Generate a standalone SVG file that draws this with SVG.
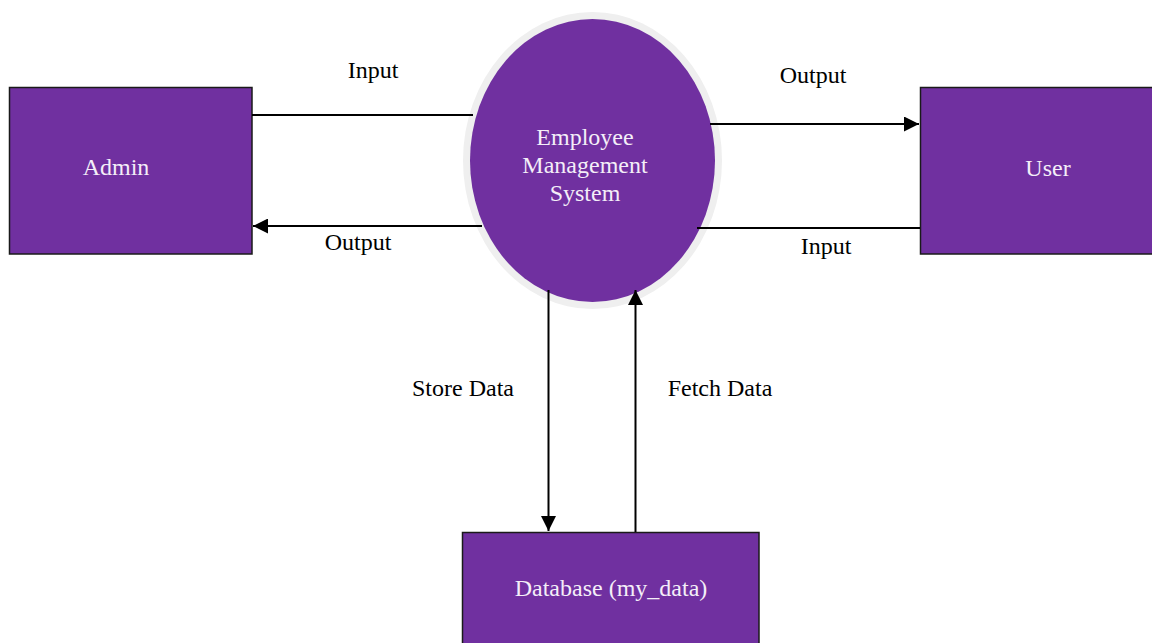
<svg xmlns="http://www.w3.org/2000/svg" width="1152" height="643" viewBox="0 0 1152 643">
<style>
.box{fill:#7030a0;stroke:#1a1a1a;stroke-width:1.5}
.nt{font-family:"Liberation Serif","Times New Roman",serif;font-size:24px;fill:#f4eef8;text-anchor:middle}
.lt{font-family:"Liberation Serif","Times New Roman",serif;font-size:24px;fill:#000;text-anchor:middle}
.ln{stroke:#000;stroke-width:2;fill:none}
</style>
<defs>
<marker id="ah" viewBox="0 0 10 10" refX="10" refY="5" markerWidth="15" markerHeight="15" markerUnits="userSpaceOnUse" orient="auto">
<path d="M0,0 L10,5 L0,10 Z" fill="#000"/>
</marker>
</defs>
<rect width="1152" height="643" fill="#fff"/>
<g id="admin">
<rect class="box" x="9.5" y="87.5" width="242.5" height="166.5"/>
<text class="nt" x="116" y="175">Admin</text>
</g>
<g id="user">
<rect class="box" x="920.5" y="87.5" width="240" height="166.5"/>
<text class="nt" x="1048" y="176">User</text>
</g>
<g id="database">
<rect class="box" x="462.5" y="532.5" width="296.5" height="120"/>
<text class="nt" x="611" y="596">Database (my_data)</text>
</g>
<g id="ems">
<ellipse cx="592.5" cy="160.5" rx="129.5" ry="148.5" fill="#efefef"/>
<ellipse cx="592.5" cy="160.5" rx="122.5" ry="141.5" fill="#7030a0"/>
<text class="nt" x="585" y="145">Employee</text>
<text class="nt" x="585" y="173">Management</text>
<text class="nt" x="585" y="201">System</text>
</g>
<g id="connectors">
<line class="ln" x1="252" y1="115" x2="473" y2="115"/>
<line class="ln" x1="482" y1="226" x2="253" y2="226" marker-end="url(#ah)"/>
<line class="ln" x1="710" y1="124" x2="919" y2="124" marker-end="url(#ah)"/>
<line class="ln" x1="920" y1="228" x2="697" y2="228"/>
<line class="ln" x1="548.5" y1="290" x2="548.5" y2="531" marker-end="url(#ah)"/>
<line class="ln" x1="635.5" y1="532" x2="635.5" y2="290" marker-end="url(#ah)"/>
<text class="lt" x="373" y="78">Input</text>
<text class="lt" x="358" y="250">Output</text>
<text class="lt" x="813" y="83">Output</text>
<text class="lt" x="826" y="254">Input</text>
<text class="lt" x="463" y="396">Store Data</text>
<text class="lt" x="720" y="396">Fetch Data</text>
</g>
</svg>
